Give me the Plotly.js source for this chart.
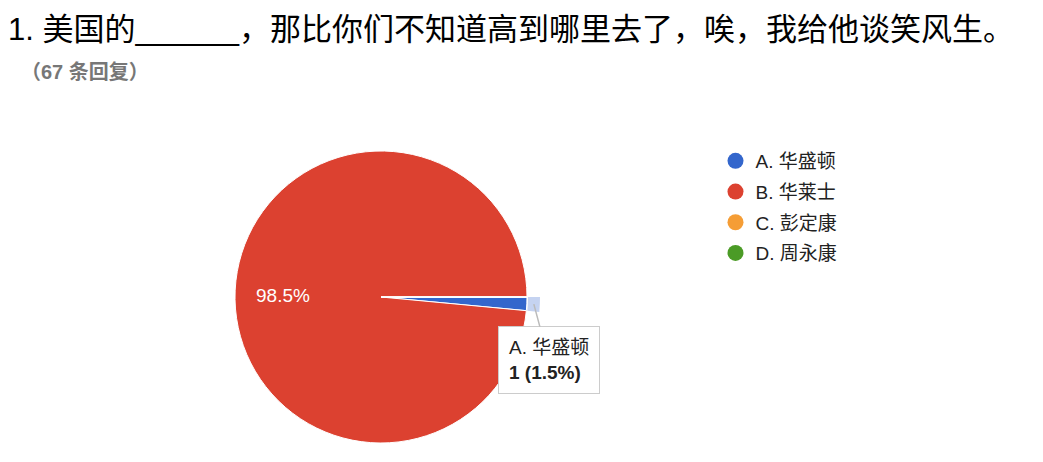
<!DOCTYPE html>
<html>
<head>
<meta charset="utf-8">
<script src="https://cdn.plot.ly/plotly-3.0.1.min.js"></script>
<style>
  html, body { margin: 0; padding: 0; background: #fff; }
  #chart { width: 1043px; height: 462px; }
</style>
</head>
<body>
<div id="chart"></div>
<script>
// Survey answers (Google Forms summary)
const questionTitle = '1. 美国的______，那比你们不知道高到哪里去了，唉，我给他谈笑风生。';
const optionLabels = ['A. 华盛顿', 'B. 华莱士', 'C. 彭定康', 'D. 周永康'];
const optionCounts = [1, 66, 0, 0];
const optionColors = ['#3366cc', '#dc4130', '#f59d35', '#4b9b26'];

const FONT = 'Liberation Sans, Arial, Noto Sans CJK SC, sans-serif';
const W = 1043, H = 462;

const total = optionCounts.reduce((a, b) => a + b, 0);

// pie geometry in pixels
const cx = 381, cy = 297, r = 146, rHi = 159;

const mainPie = {
    type: 'pie',
    labels: optionLabels,
    values: optionCounts,
    sort: false,
    direction: 'clockwise',
    rotation: 90,
    marker: { colors: optionColors, line: { color: '#ffffff', width: 1 } },
    textinfo: 'none',
    hoverinfo: 'label+value+percent',
    showlegend: false,
    domain: {
        x: [(cx - r) / W, (cx + r) / W],
        y: [1 - (cy + r) / H, 1 - (cy - r) / H]
    }
};

// light ring showing the hovered slice (A)
const hiPie = {
    type: 'pie',
    labels: optionLabels,
    values: optionCounts,
    sort: false,
    direction: 'clockwise',
    rotation: 90,
    hole: (r + 1) / rHi,
    marker: { colors: optionLabels.map((l, i) => i === 0 ? '#c5d3f1' : 'rgba(0,0,0,0)'), line: { width: 0 } },
    textinfo: 'none',
    hoverinfo: 'skip',
    showlegend: false,
    domain: {
        x: [(cx - rHi) / W, (cx + rHi) / W],
        y: [1 - (cy + rHi) / H, 1 - (cy - rHi) / H]
    }
};

// legend entries with round markers
const legendTraces = optionLabels.map((l, i) => ({
    type: 'scatter',
    mode: 'markers',
    x: [null],
    y: [null],
    name: l,
    legendgroup: 'g' + i,
    marker: { color: optionColors[i], size: 16, symbol: 'circle' },
    hoverinfo: 'skip'
}));

// percentage labels for big slices, placed at the slice's mid angle
const pctLabels = [];
let acc = 0;
optionCounts.forEach((v, i) => {
    const frac = v / total;
    const mid = (acc + frac / 2) * 2 * Math.PI;
    acc += frac;
    if (frac < 0.05) return;
    pctLabels.push({
        text: (frac * 100).toFixed(1) + '%',
        xref: 'paper', yref: 'paper',
        x: (cx + 0.67 * r * Math.cos(mid)) / W,
        y: 1 - (cy + 0.67 * r * Math.sin(mid) + 3) / H,
        xanchor: 'center', yanchor: 'middle',
        showarrow: false,
        font: { family: FONT, size: 19, color: '#ffffff' }
    });
});

// tooltip position from slice A's mid angle
const midA = (optionCounts[0] / total) * Math.PI;
const tipX = cx + (r + 7) * Math.cos(midA);
const tipY = cy + (r + 7) * Math.sin(midA);
const pctA = (optionCounts[0] / total * 100).toFixed(1);

Plotly.newPlot('chart', [mainPie, hiPie, ...legendTraces], {
    width: W,
    height: H,
    paper_bgcolor: '#ffffff',
    plot_bgcolor: '#ffffff',
    margin: { t: 0, b: 0, l: 0, r: 0 },
    font: { family: FONT, color: '#222222' },
    title: {
        text: questionTitle,
        font: { family: FONT, size: 31, color: '#000000' },
        x: 8 / W,
        xanchor: 'left',
        xref: 'paper',
        yref: 'container',
        y: 1 - 29 / H,
        yanchor: 'middle'
    },
    xaxis: { visible: false },
    yaxis: { visible: false },
    showlegend: true,
    legend: {
        x: 0.686,
        y: 1 - 142 / H,
        xanchor: 'left',
        yanchor: 'top',
        traceorder: 'grouped',
        tracegroupgap: 3,
        font: { family: FONT, size: 19, color: '#222222' },
        bgcolor: 'rgba(0,0,0,0)'
    },
    annotations: [
        {
            text: '<b>（' + total + ' 条回复）</b>',
            xref: 'paper', yref: 'paper',
            x: 19 / W, y: 1 - 72 / H,
            xanchor: 'left', yanchor: 'middle',
            showarrow: false,
            font: { family: FONT, size: 20, color: '#777777' }
        },
        ...pctLabels,
        {
            text: optionLabels[0] + '<br><b>' + optionCounts[0] + ' (' + pctA + '%)</b>',
            xref: 'paper', yref: 'paper',
            x: tipX / W, y: 1 - tipY / H,
            ax: 15, ay: 56,
            showarrow: true,
            arrowhead: 0,
            arrowwidth: 1.5,
            arrowcolor: '#bbbbbb',
            align: 'left',
            bgcolor: '#ffffff',
            bordercolor: '#cccccc',
            borderwidth: 1,
            borderpad: 10,
            font: { family: FONT, size: 19, color: '#222222' }
        }
    ]
}, { displayModeBar: false, staticPlot: true });
</script>
</body>
</html>
